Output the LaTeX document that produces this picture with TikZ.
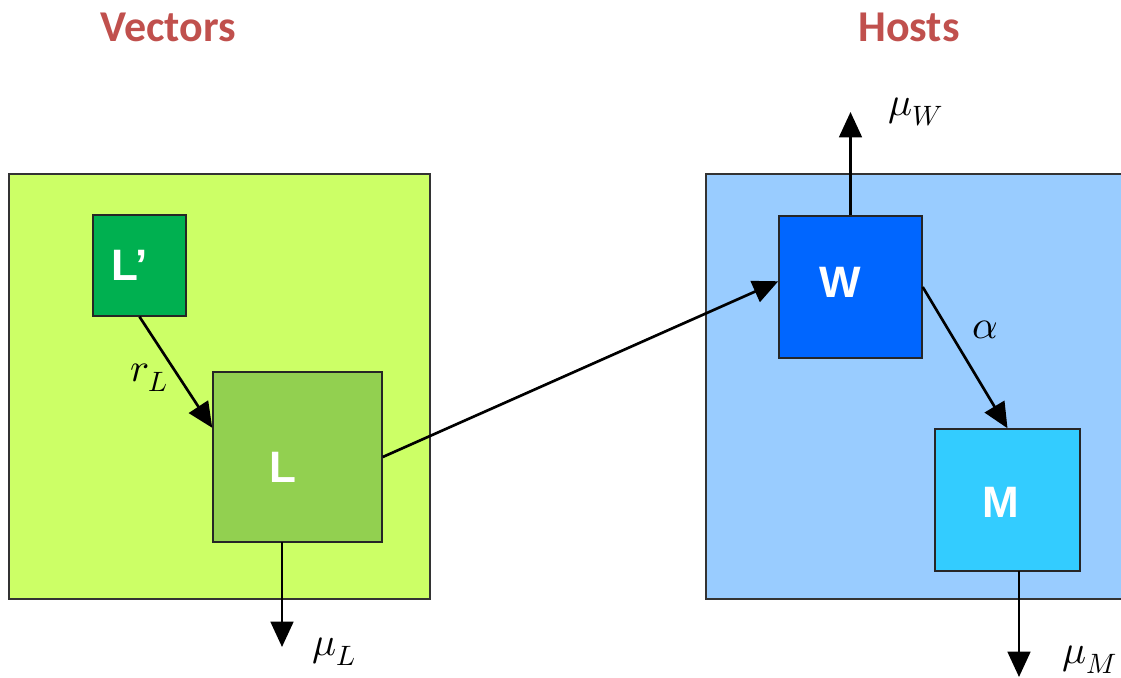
\documentclass[tikz,border=0pt]{standalone}
\usepackage{fontspec}
\usepackage{unicode-math}
\setmathfont{Latin Modern Math}
\newfontfamily\titlefont{Carlito}
\newfontfamily\boxfont{Liberation Sans}
\usetikzlibrary{arrows.meta,calc}
\definecolor{titlered}{HTML}{C0504D}
\definecolor{vecbg}{HTML}{CCFF66}
\definecolor{lpcol}{HTML}{00B050}
\definecolor{lcol}{HTML}{92D050}
\definecolor{hostbg}{HTML}{99CCFF}
\definecolor{wcol}{HTML}{0066FF}
\definecolor{mcol}{HTML}{33CCFF}
\begin{document}
\begin{tikzpicture}[x=0.75pt,y=-0.75pt,
  bx/.style n args={2}{rectangle, inner sep=0pt, minimum width=#1*0.75pt, minimum height=#2*0.75pt},
  region/.style={draw=black!80, line width=0.9pt},
  comp/.style={draw=black!85, line width=1.1pt},
  comptext/.style={inner sep=0pt, text=white, font=\boxfont\bfseries\fontsize{33}{38}\selectfont},
  title/.style={text=titlered, font=\titlefont\bfseries\fontsize{33}{38}\selectfont},
  flow/.style={line width=2pt, -{Triangle[length=19pt,width=17pt]}},
  lab/.style={font=\fontsize{30}{36}\selectfont}
]
\clip (0,0) rectangle (1121,678);
% titles
\node[title] (vt) at (168,27) {Vectors};
\node[title] (ht) at (909,27) {Hosts};
% regions
\node[region, fill=vecbg, bx={421}{425}] (V) at (219.5,386.5) {};
\node[region, fill=hostbg, bx={430}{425}] (H) at (921,386.5) {};
% compartments
\node[comp, fill=lpcol, bx={93}{101}] (Lp) at (139.5,265.5) {};
\node[comp, fill=lcol, bx={169}{170}] (L) at (297.5,457) {};
\node[comp, fill=wcol, bx={143}{142}] (W) at (850.5,287) {};
\node[comp, fill=mcol, bx={145}{142}] (M) at (1007.5,500) {};
\node[comptext] (Lptxt) at ($(Lp)+(-10,0)$) {L’};
\node[comptext] (Ltxt) at ($(L)+(-15,10)$) {L};
\node[comptext] (Wtxt) at ($(W)+(-10,-5)$) {W};
\node[comptext] (Mtxt) at ($(M)+(-7,2)$) {M};
% free ends
\coordinate (muWend) at (850.5,112);
\coordinate (muLstart) at (282,542);
\coordinate (muLend) at (282,647);
\coordinate (muMstart) at (1019,571);
\coordinate (muMend) at (1019,677);
% connectors
\draw[flow] (Lp.south) -- ($(L.north west)!0.33!(L.south west)$);
\draw[flow] (L.east) -- ($(W.north west)!0.46!(W.south west)$);
\draw[flow] (W.east) -- (M.north);
\draw[flow] (W.north) -- (muWend);
\draw[flow] (muLstart) -- (muLend);
\draw[flow] (muMstart) -- (muMend);
% labels
\node[lab] (rl) at (149,378) {$r_L$};
\node[lab] (al) at (985,330) {$\alpha$};
\node[lab] (mw) at (916,112) {$\mu_W$};
\node[lab] (ml) at (334,652) {$\mu_L$};
\node[lab] (mm) at (1090,660) {$\mu_M$};
\end{tikzpicture}
\end{document}
